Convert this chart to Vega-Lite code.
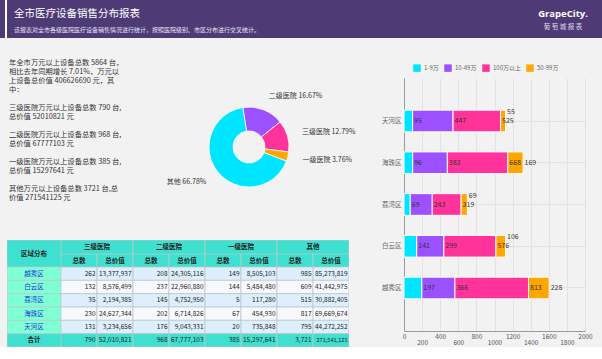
{
  "$schema": "https://vega.github.io/schema/vega-lite/v6.json",
  "padding": 0,
  "background": "#F2F2F2",
  "config": {"view": {"stroke": null}, "font": "Noto Sans CJK SC"},
  "datasets": {
    "tbl": [
      {"区域": "越秀区", "三级医院|总数": 262, "三级医院|总价值": 13377937, "二级医院|总数": 208, "二级医院|总价值": 24305116, "一级医院|总数": 149, "一级医院|总价值": 8505103, "其他|总数": 985, "其他|总价值": 85273819},
      {"区域": "白云区", "三级医院|总数": 132, "三级医院|总价值": 8576499, "二级医院|总数": 237, "二级医院|总价值": 22960880, "一级医院|总数": 144, "一级医院|总价值": 5484480, "其他|总数": 609, "其他|总价值": 41442975},
      {"区域": "荔湾区", "三级医院|总数": 35, "三级医院|总价值": 2194385, "二级医院|总数": 145, "二级医院|总价值": 4752950, "一级医院|总数": 5, "一级医院|总价值": 117280, "其他|总数": 515, "其他|总价值": 30882405},
      {"区域": "海珠区", "三级医院|总数": 230, "三级医院|总价值": 24627344, "二级医院|总数": 202, "二级医院|总价值": 6714826, "一级医院|总数": 67, "一级医院|总价值": 454930, "其他|总数": 817, "其他|总价值": 69669674},
      {"区域": "天河区", "三级医院|总数": 131, "三级医院|总价值": 3234656, "二级医院|总数": 176, "二级医院|总价值": 9043331, "一级医院|总数": 20, "一级医院|总价值": 735848, "其他|总数": 795, "其他|总价值": 44272252},
      {"区域": "合计", "三级医院|总数": 790, "三级医院|总价值": 52010821, "二级医院|总数": 968, "二级医院|总价值": 67777103, "一级医院|总数": 385, "一级医院|总价值": 15297641, "其他|总数": 3721, "其他|总价值": 271541125}
    ],
    "groups": [{"g": "三级医院"}, {"g": "二级医院"}, {"g": "一级医院"}, {"g": "其他"}],
    "metrics": [
      {"k": "三级医院|总数", "m": "总数"}, {"k": "三级医院|总价值", "m": "总价值"},
      {"k": "二级医院|总数", "m": "总数"}, {"k": "二级医院|总价值", "m": "总价值"},
      {"k": "一级医院|总数", "m": "总数"}, {"k": "一级医院|总价值", "m": "总价值"},
      {"k": "其他|总数", "m": "总数"}, {"k": "其他|总价值", "m": "总价值"}
    ]
  },
  "spacing": 16,
  "resolve": {"scale": {"color": "independent"}},
  "vconcat": [
    {
      "spacing": 0,
      "hconcat": [
        {"width": 5, "height": 38, "view": {"fill": "#4E3B76"}, "data": {"values": []}, "mark": "rect", "encoding": {}},
        {"width": 2, "height": 38, "view": {"fill": "#FFFFFF"}, "data": {"values": []}, "mark": "rect", "encoding": {}},
        {
          "width": 595, "height": 38, "view": {"fill": "#4E3B76"},
          "data": {"values": [{"title": "全市医疗设备销售分布报表", "subtitle": "该报表对全市各级医院医疗设备销售情况进行统计，按照医院级别、市区分布进行交叉统计。", "brand": "GrapeCity.", "brandCn": "葡 萄 城 报 表"}]},
          "layer": [
            {"mark": {"type": "text", "align": "left", "baseline": "middle", "dx": 7, "dy": 14, "fontSize": 10.5, "fill": "#FFFFFF"},
             "encoding": {"x": {"datum": 0, "type": "quantitative", "scale": {"domain": [0, 1]}, "axis": null}, "y": {"datum": 1, "type": "quantitative", "scale": {"domain": [0, 1]}, "axis": null}, "text": {"field": "title"}}},
            {"mark": {"type": "text", "align": "left", "baseline": "middle", "dx": 7, "dy": 30, "fontSize": 6, "fill": "#E8E4F2"},
             "encoding": {"x": {"datum": 0, "type": "quantitative", "scale": {"domain": [0, 1]}, "axis": null}, "y": {"datum": 1, "type": "quantitative", "scale": {"domain": [0, 1]}, "axis": null}, "text": {"field": "subtitle"}}},
            {"mark": {"type": "text", "align": "center", "baseline": "middle", "dx": -39, "dy": 14, "fontSize": 9.5, "fontWeight": "bold", "font": "Open Sans", "fill": "#FFFFFF"},
             "encoding": {"x": {"datum": 1, "type": "quantitative", "scale": {"domain": [0, 1]}, "axis": null}, "y": {"datum": 1, "type": "quantitative", "scale": {"domain": [0, 1]}, "axis": null}, "text": {"field": "brand"}}},
            {"mark": {"type": "text", "align": "center", "baseline": "middle", "dx": -39, "dy": 27, "fontSize": 6.5, "fill": "#DCD6EA"},
             "encoding": {"x": {"datum": 1, "type": "quantitative", "scale": {"domain": [0, 1]}, "axis": null}, "y": {"datum": 1, "type": "quantitative", "scale": {"domain": [0, 1]}, "axis": null}, "text": {"field": "brandCn"}}}
          ]
        }
      ]
    },
    {
      "spacing": 22,
      "resolve": {"scale": {"color": "independent"}},
      "hconcat": [
        {
          "spacing": 6,
          "hconcat": [
            {"width": 1, "height": 1, "data": {"values": []}, "mark": "rect", "encoding": {}},
            {
              "spacing": 0,
              "vconcat": [
                {
                  "spacing": 0,
                  "hconcat": [
                    {
                      "width": 132, "height": 186,
                      "data": {"values": [{"text": "年全市万元以上设备总数 5864 台，\n相比去年同期增长 7.01%，万元以\n上设备总价值 406626690 元，其\n中：\n\u200b\n三级医院万元以上设备总数 790 台,\n总价值 52010821 元\n\u200b\n二级医院万元以上设备总数 968 台,\n总价值 67777103 元\n\u200b\n一级医院万元以上设备总数 385 台,\n总价值 15297641 元\n\u200b\n其他万元以上设备总数 3721 台,总\n价值 271541125 元"}]},
                      "mark": {"type": "text", "align": "left", "baseline": "top", "lineBreak": "\n", "lineHeight": 9, "fontSize": 7.3, "fill": "#333333", "dx": 2, "dy": 4.5},
                      "encoding": {
                        "x": {"datum": 0, "type": "quantitative", "scale": {"domain": [0, 1]}, "axis": null},
                        "y": {"datum": 1, "type": "quantitative", "scale": {"domain": [0, 1]}, "axis": null},
                        "text": {"field": "text"}
                      }
                    },
                    {
                      "width": 220, "height": 186,
                      "data": {"values": [
                        {"name": "二级医院", "value": 67777103, "label": "二级医院 16.67%"},
                        {"name": "三级医院", "value": 52010821, "label": "三级医院 12.79%"},
                        {"name": "一级医院", "value": 15297641, "label": "一级医院 3.76%"},
                        {"name": "其他", "value": 271541125, "label": "其他 66.78%"}
                      ]},
                      "resolve": {"scale": {"theta": "independent"}},
                      "layer": [
                        {"mark": {"type": "arc", "outerRadius": 40, "innerRadius": 16, "stroke": "#FFFFFF", "strokeWidth": 0.8},
                         "encoding": {
                           "theta": {"field": "value", "type": "quantitative", "stack": true, "scale": {"range": [1.932, 8.215]}},
                           "order": {"field": "name", "sort": "descending"},
                           "color": {"field": "name", "type": "nominal", "scale": {"domain": ["其他", "二级医院", "三级医院", "一级医院"], "range": ["#00E5FF", "#9B51FF", "#FF3399", "#FFA600"]}, "legend": null}}},
                        {"transform": [{"filter": "datum.name !== '其他'"}],
                         "mark": {"type": "text", "radius": 55, "align": "left", "baseline": "middle", "fontSize": 7, "fill": "#333333"},
                         "encoding": {
                           "theta": {"field": "value", "type": "quantitative", "stack": true, "scale": {"range": [-0.155, 1.932]}},
                           "order": {"field": "name", "sort": "descending"},
                           "detail": {"field": "name"},
                           "text": {"field": "label"}}},
                        {"transform": [{"filter": "datum.name === '其他'"}],
                         "mark": {"type": "text", "radius": 55, "align": "right", "baseline": "middle", "fontSize": 7, "fill": "#333333"},
                         "encoding": {
                           "theta": {"field": "value", "type": "quantitative", "stack": true, "scale": {"range": [1.932, 6.128]}},
                           "detail": {"field": "name"},
                           "text": {"field": "label"}}}
                      ]
                    }
                  ]
                },
                {
                  "spacing": 0,
                  "hconcat": [
                    {
                      "spacing": 0,
                      "vconcat": [
                        {
                          "width": 54, "height": 27,
                          "data": {"values": [{"t": "区域分布"}]},
                          "layer": [
                            {"mark": {"type": "rect", "fill": "#40E0D0", "stroke": "#BCC8C8", "strokeWidth": 0.8, "clip": true}, "encoding": {}},
                            {"mark": {"type": "text", "fontSize": 6.5, "fontWeight": "bold", "fill": "#222222", "baseline": "middle"}, "encoding": {"text": {"field": "t"}}}
                          ]
                        },
                        {
                          "width": 54, "height": 80,
                          "data": {"name": "tbl"},
                          "encoding": {"y": {"field": "区域", "type": "nominal", "sort": null, "scale": {"domain": ["越秀区", "白云区", "荔湾区", "海珠区", "天河区", "合计"], "paddingInner": 0, "paddingOuter": 0}, "axis": null}},
                          "layer": [
                            {"mark": {"type": "rect", "stroke": "#BCC8C8", "strokeWidth": 0.8, "clip": true},
                             "encoding": {"color": {"condition": {"test": "datum['区域'] === '合计'", "value": "#40E0D0"}, "value": "#7FFFD4"}}},
                            {"transform": [{"filter": "datum['区域'] !== '合计'"}],
                             "mark": {"type": "text", "fontSize": 6.5, "baseline": "middle", "fill": "#2233DD"},
                             "encoding": {"text": {"field": "区域"}}},
                            {"transform": [{"filter": "datum['区域'] === '合计'"}],
                             "mark": {"type": "text", "fontSize": 6.5, "fontWeight": "bold", "baseline": "middle", "fill": "#222222"},
                             "encoding": {"text": {"field": "区域"}}}
                          ]
                        }
                      ]
                    },
                    {
                      "spacing": 0,
                      "vconcat": [
                        {
                          "width": 288, "height": 14,
                          "data": {"name": "groups"},
                          "encoding": {"x": {"field": "g", "type": "nominal", "sort": null, "scale": {"paddingInner": 0, "paddingOuter": 0}, "axis": null}},
                          "layer": [
                            {"mark": {"type": "rect", "fill": "#40E0D0", "stroke": "#BCC8C8", "strokeWidth": 0.8, "clip": true}},
                            {"mark": {"type": "text", "fontSize": 6.5, "fontWeight": "bold", "fill": "#222222", "baseline": "middle"}, "encoding": {"text": {"field": "g"}}}
                          ]
                        },
                        {
                          "width": 288, "height": 13,
                          "data": {"name": "metrics"},
                          "encoding": {"x": {"field": "k", "type": "nominal", "sort": null, "scale": {"paddingInner": 0, "paddingOuter": 0}, "axis": null}},
                          "layer": [
                            {"mark": {"type": "rect", "fill": "#40E0D0", "stroke": "#BCC8C8", "strokeWidth": 0.8, "clip": true}},
                            {"mark": {"type": "text", "fontSize": 6.5, "fontWeight": "bold", "fill": "#222222", "baseline": "middle"}, "encoding": {"text": {"field": "m"}}}
                          ]
                        },
                        {
                          "width": 288, "height": 80,
                          "data": {"name": "tbl"},
                          "transform": [{"fold": ["三级医院|总数", "三级医院|总价值", "二级医院|总数", "二级医院|总价值", "一级医院|总数", "一级医院|总价值", "其他|总数", "其他|总价值"], "as": ["key", "val"]}],
                          "encoding": {
                            "y": {"field": "区域", "type": "nominal", "sort": null, "scale": {"domain": ["越秀区", "白云区", "荔湾区", "海珠区", "天河区", "合计"], "paddingInner": 0, "paddingOuter": 0}, "axis": null}
                          },
                          "layer": [
                            {"mark": {"type": "rect", "stroke": "#BCC8C8", "strokeWidth": 0.8, "clip": true},
                             "encoding": {
                               "x": {"field": "key", "type": "nominal", "scale": {"domain": ["三级医院|总数", "三级医院|总价值", "二级医院|总数", "二级医院|总价值", "一级医院|总数", "一级医院|总价值", "其他|总数", "其他|总价值"], "paddingInner": 0, "paddingOuter": 0}, "axis": null},
                               "color": {"condition": [{"test": "datum['区域'] === '合计'", "value": "#40E0D0"}, {"test": "indexof(['越秀区', '荔湾区', '天河区'], datum['区域']) >= 0", "value": "#DDEEFD"}], "value": "#F7F9FE"}
                             }},
                            {"mark": {"type": "text", "align": "right", "baseline": "middle", "dx": -1.5, "fill": "#222222"},
                             "encoding": {
                               "x": {"field": "key", "type": "nominal", "bandPosition": 1, "axis": null},
                               "text": {"field": "val", "type": "quantitative", "format": ","},
                               "size": {"condition": {"test": "datum.val > 100000000", "value": 5.6}, "value": 6.5}
                             }}
                          ]
                        }
                      ]
                    }
                  ]
                }
              ]
            }
          ]
        },
        {
          "spacing": 0,
          "resolve": {"scale": {"color": "independent"}},
          "vconcat": [
            {"width": 1, "height": 1, "data": {"values": []}, "mark": "rect", "encoding": {}},
            {
              "width": 181, "height": 253,
              "data": {"values": [
                {"district": "天河区", "band": "1-9万", "count": 95}, {"district": "天河区", "band": "10-49万", "count": 447}, {"district": "天河区", "band": "100万以上", "count": 525}, {"district": "天河区", "band": "50-99万", "count": 55},
                {"district": "海珠区", "band": "1-9万", "count": 96}, {"district": "海珠区", "band": "10-49万", "count": 383}, {"district": "海珠区", "band": "100万以上", "count": 668}, {"district": "海珠区", "band": "50-99万", "count": 169},
                {"district": "荔湾区", "band": "1-9万", "count": 69}, {"district": "荔湾区", "band": "10-49万", "count": 243}, {"district": "荔湾区", "band": "100万以上", "count": 319}, {"district": "荔湾区", "band": "50-99万", "count": 69},
                {"district": "白云区", "band": "1-9万", "count": 141}, {"district": "白云区", "band": "10-49万", "count": 299}, {"district": "白云区", "band": "100万以上", "count": 576}, {"district": "白云区", "band": "50-99万", "count": 106},
                {"district": "越秀区", "band": "1-9万", "count": 197}, {"district": "越秀区", "band": "10-49万", "count": 366}, {"district": "越秀区", "band": "100万以上", "count": 813}, {"district": "越秀区", "band": "50-99万", "count": 228}
              ]},
              "transform": [{"stack": "count", "groupby": ["district"], "sort": [{"field": "band", "order": "ascending"}], "as": ["x0", "x1"]}],
              "encoding": {
                "y": {"field": "district", "type": "nominal", "sort": ["天河区", "海珠区", "荔湾区", "白云区", "越秀区"], "scale": {"paddingInner": 0.48, "paddingOuter": 0.77},
                      "axis": {"title": null, "ticks": false, "domainColor": "#9A9A9A", "labelFontSize": 6.5, "labelColor": "#666666", "labelPadding": 3, "grid": true, "gridColor": "#E2E2E2", "bandPosition": 0.5}},
                "x": {"field": "x1", "type": "quantitative", "scale": {"domain": [0, 2000], "nice": false},
                      "axis": {"title": null, "values": [0, 200, 400, 600, 800, 1000, 1200, 1400, 1600, 1800, 2000], "format": "d", "grid": true, "gridColor": "#E2E2E2", "ticks": false, "domainColor": "#9A9A9A", "labelFontSize": 6.5, "labelColor": "#555555", "labelPadding": 8, "labelOverlap": false, "labelFlush": false,
                               "labelBaseline": {"condition": {"test": "datum.value % 400 === 0", "value": "bottom"}, "value": "top"}}}
              },
              "layer": [
                {"mark": {"type": "bar", "stroke": "#FFFFFF", "strokeWidth": 1},
                 "encoding": {
                   "x2": {"field": "x0"},
                   "color": {"field": "band", "type": "nominal", "scale": {"domain": ["1-9万", "10-49万", "100万以上", "50-99万"], "range": ["#00E5FF", "#9B51FF", "#FF3399", "#FFA600"]},
                             "legend": {"orient": "top", "direction": "horizontal", "title": null, "symbolType": "square", "symbolSize": 56, "symbolStrokeWidth": 0, "labelFontSize": 6, "labelColor": "#666666", "offset": -3, "columnPadding": 5, "labelOffset": 3, "padding": 9}}
                 }},
                {"transform": [{"filter": "!(datum.band === '50-99万' && indexof(['天河区', '荔湾区', '白云区'], datum.district) >= 0)"}],
                 "mark": {"type": "text", "align": "left", "baseline": "middle", "dx": 1.5, "fontSize": 7, "fill": "#333333"},
                 "encoding": {"text": {"field": "count", "type": "quantitative"}}},
                {"transform": [{"filter": "datum.band === '50-99万' && indexof(['天河区', '荔湾区', '白云区'], datum.district) >= 0"}],
                 "mark": {"type": "text", "align": "left", "baseline": "middle", "dx": 1.5, "dy": -9, "fontSize": 7, "fill": "#333333"},
                 "encoding": {"text": {"field": "count", "type": "quantitative"}}}
              ]
            }
          ]
        }
      ]
    }
  ]
}
